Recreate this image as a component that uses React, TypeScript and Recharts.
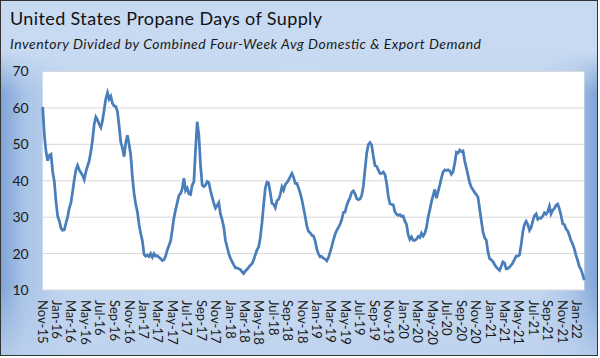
import { LineChart, Line, XAxis, YAxis, CartesianGrid } from 'recharts';

// weekly readings, week ending Friday, first week 6 Nov 2015
const FIRST_WEEK = Date.UTC(2015, 10, 6);
const DAY = 86400000;

const days2015 = [60.3, 52.5, 48, 45.5, 47, 47.3, 42.5, 39.8];
const days2016 = [
  34.3, 30.3, 29, 27, 26.4, 26.5, 28.4, 30, 32.5, 34, 37, 40.3, 43, 44.2, 43, 42.2, 41.5, 40.3,
  42.5, 44, 45.5, 48, 51.3, 55.5, 57.5, 56.7, 55.5, 54.6, 56.5, 59.5, 62.5, 64.2, 62.4, 63.2,
  61.2, 60.5, 60.4, 59, 55, 50.6, 49, 46.6, 50.5, 52.5, 50, 47, 41, 36.5, 33.5, 31.5, 28, 25.5, 23.5,
];
const days2017 = [
  19.8, 19.3, 19.6, 19.2, 20.0, 19.0, 20.0, 19.3, 19.4, 19.0, 18.6, 18.1, 18.3, 19.3, 21.0, 22.2,
  23.5, 26.5, 29.8, 32.0, 34.0, 36.0, 36.5, 37.8, 40.7, 37.3, 38.0, 36.4, 36.2, 38.8, 39.7, 48.5,
  56.2, 52.5, 44.3, 38.8, 38.4, 38.8, 39.8, 39.5, 37.3, 35.5, 33.8, 32.5, 33.2, 34.0, 30.8, 29.3,
  27.2, 23.6, 21.8, 20.0,
];
const days2018 = [
  18.7, 17.8, 16.9, 16.1, 16.1, 15.8, 15.6, 15.0, 14.5, 15.2, 15.7, 16.2, 16.8, 17.2, 18.3, 19.7,
  21.0, 21.8, 24.5, 28.5, 33.5, 38.0, 39.6, 39.4, 36.7, 33.8, 33.5, 32.6, 34.5, 34.9, 36.2, 38.3,
  37.4, 39.0, 39.5, 40.2, 41.1, 42.0, 41.0, 39.3, 39.3, 38.0, 36.6, 34.8, 32.5, 30.2, 27.5, 26.1,
  25.7, 25.0, 24.8, 23.5,
];
const days2019 = [
  21.2, 19.9, 19.1, 19.2, 18.7, 18.5, 18.0, 18.9, 20.4, 22.0, 23.8, 25.3, 26.4, 27.2, 28.1, 29.3,
  31.3, 31.4, 33.2, 34.4, 35.4, 36.8, 37.2, 36.4, 35.1, 34.8, 35.0, 35.9, 38.5, 43.0, 47.5, 49.9,
  50.5, 49.8, 46.8, 44.2, 44.0, 43.0, 42.0, 42.0, 42.4, 41.7, 39.4, 35.8, 33.7, 33.5, 33.4, 31.5,
  30.8, 30.5, 30.7, 30.2,
];
const days2020 = [
  30.3, 28.9, 28.0, 25.2, 23.9, 24.6, 23.6, 23.6, 24.0, 24.7, 24.4, 25.6, 24.8, 25.5, 27.2, 30.0,
  32.0, 34.2, 36.0, 37.6, 35.2, 37.0, 38.8, 40.8, 42.4, 43.0, 42.8, 43.0, 42.7, 41.8, 42.5, 44.7,
  47.8, 47.6, 48.4, 48.0, 48.2, 45.5, 43.5, 41.5, 39.5, 38.2, 37.5, 36.8, 36.2, 35.5, 32.3, 29.1,
  26.0, 24.3, 23.7, 20.6,
];
const days2021 = [
  18.6, 18.3, 17.8, 17.0, 16.3, 15.8, 15.4, 16.5, 17.7, 17.4, 15.8, 15.9, 16.3, 16.8, 17.5, 18.4,
  19.3, 19.3, 19.7, 22.4, 26.0, 28.0, 28.9, 28.0, 26.4, 27.2, 28.9, 30.4, 30.9, 29.4, 29.8, 29.7,
  30.3, 31.2, 30.8, 31.5, 33.0, 30.9, 31.9, 32.4, 33.3, 33.6, 32.3, 30.5, 28.2, 28.0, 26.8, 26.2,
  25.0, 23.6, 22.6, 21.3, 19.6,
];
const days2022 = [18.1, 16.4, 15.7, 14.2, 12.7];

const MONTH_NAMES = ['Jan', 'Feb', 'Mar', 'Apr', 'May', 'Jun', 'Jul', 'Aug', 'Sep', 'Oct', 'Nov', 'Dec'];
const Y_TICKS = [10, 20, 30, 40, 50, 60, 70];

const values = [
  ...days2015, ...days2016, ...days2017, ...days2018,
  ...days2019, ...days2020, ...days2021, ...days2022,
];
const data = values.map((v, i) => ({ t: FIRST_WEEK + i * 7 * DAY, days: v }));
const LAST_WEEK = data[data.length - 1].t;

// every other month, Nov-15 .. Jan-22
const xTicks: number[] = [];
for (let m = 10; m <= 10 + 74; m += 2) {
  xTicks.push(Date.UTC(2015 + Math.floor(m / 12), m % 12, 6));
}

const FONT = 'Lato, "Open Sans", sans-serif';

function MonthTick(props: any) {
  const { x, y, payload } = props;
  const d = new Date(payload.value);
  const label = `${MONTH_NAMES[d.getUTCMonth()]}-${String(d.getUTCFullYear()).slice(2)}`;
  return (
    <text
      x={x} y={y}
      transform={`rotate(90 ${x} ${y})`}
      textAnchor="start" dominantBaseline="central"
      fontSize={13} fill="#1a1a1a" fontFamily={FONT}
    >
      {label}
    </text>
  );
}

export default function App() {
  return (
    <div style={{ position: 'relative', width: 600, height: 358, overflow: 'hidden' }}>
      <style>{'body{margin:0}'}</style>
      <div
        style={{
          position: 'absolute', left: 0, top: 0, width: 596, height: 354,
          border: '1px solid #333',
          background:
            'linear-gradient(180deg, #c8daf1 0%, #c8daf1 14%, rgba(200,218,241,0) 26%, rgba(200,218,241,0) 80%, rgba(190,210,238,0.8) 100%),' +
            'linear-gradient(90deg, #7fa4d6 0%, #a9c4e7 4%, #c4d7ef 12%, #c8daf1 50%, #c4d7ef 90%, #a9c4e7 96%, #7fa4d6 100%)',
        }}
      />
      <svg width={600} height={60} style={{ position: 'absolute', left: 0, top: 0 }}>
        <text x={10} y={25} fontSize={18} fill="#111" fontFamily={FONT} textLength={312} lengthAdjust="spacing">
          United States Propane Days of Supply
        </text>
        <text x={10} y={49} fontSize={14} fontStyle="italic" fill="#1a1a1a" fontFamily={FONT} textLength={471} lengthAdjust="spacing">
          Inventory Divided by Combined Four-Week Avg Domestic &amp; Export Demand
        </text>
      </svg>
      <div style={{ position: 'absolute', left: 0, top: 0 }}>
        <LineChart
          width={600} height={358} data={data}
          margin={{ top: 71.5, right: 15.7, bottom: 8, left: 8.7 }}
        >
          <CartesianGrid vertical={false} stroke="#d9d9d9" fill="#ffffff" />
          <XAxis
            dataKey="t" type="number" scale="time"
            domain={[FIRST_WEEK, LAST_WEEK]} ticks={xTicks}
            height={60} interval={0} axisLine={false} tickLine={false} tickMargin={4}
            tick={<MonthTick />}
          />
          <YAxis
            domain={[10, 70]} ticks={Y_TICKS} width={34}
            axisLine={false} tickLine={false} tickMargin={8}
            tick={{ fontSize: 14, fill: '#1a1a1a', fontFamily: FONT }}
          />
          <Line
            type="linear" dataKey="days" dot={false}
            stroke="#4a7ebb" strokeWidth={2.75} isAnimationActive={false}
          />
        </LineChart>
      </div>
    </div>
  );
}
